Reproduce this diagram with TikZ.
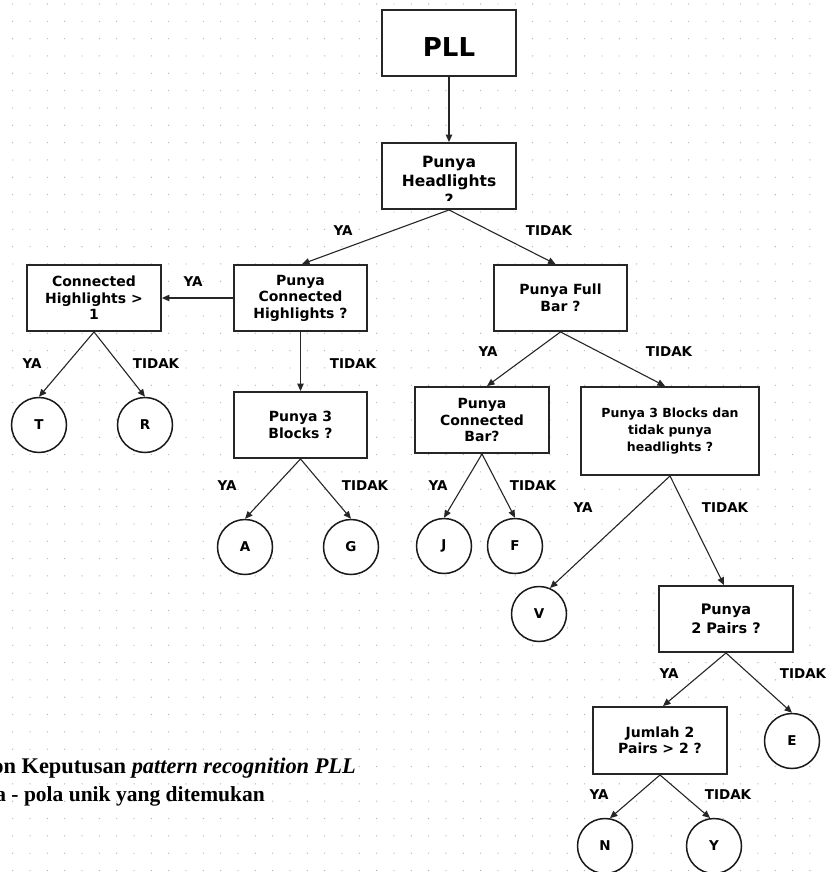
\documentclass[tikz,border=0pt]{standalone}
\usepackage{fontspec}
\setmainfont{DejaVu Sans}
\newfontfamily\capfont{Liberation Serif}
\usetikzlibrary{arrows.meta}
\begin{document}
\begin{tikzpicture}[x=1pt,y=-1pt,
  box/.style={draw=black!85,line width=1.9pt,fill=white,inner sep=0pt,align=center,
    minimum width=134pt,minimum height=66pt,font=\fontsize{14}{16.5}\selectfont\bfseries},
  leaf/.style={circle,draw=black!90,line width=1.5pt,fill=white,inner sep=0pt,
    minimum size=55pt,font=\fontsize{13.5}{16}\selectfont\bfseries},
  lab/.style={inner sep=0pt,font=\fontsize{13.5}{16}\selectfont\bfseries},
  arr/.style={-{Triangle[length=7.5pt,width=6.5pt]},line width=1.1pt,draw=black!85}]
\clip (0,0) rectangle (825,872);
\fill[white] (0,0) rectangle (825,872);
% dot grid
\foreach \i in {0,...,47}{\foreach \j in {0,...,50}{
  \fill[black!30] ({12.7+17.33*\i},{4+17.33*\j}) circle (0.65pt);}}
% boxes
\node[box] (pll) at (449,43) {};
\node[inner sep=0pt,font=\fontsize{26}{30}\selectfont\bfseries] (pllt) at (449,47) {PLL};
\node[box] (hl) at (449,176) {};
\begin{scope}
  \clip (384,145) rectangle (514,200);
  \node[inner sep=0pt,align=center,font=\fontsize{15.5}{19}\selectfont\bfseries] (hlt) at (449,181) {Punya\\Headlights\\?};
\end{scope}
\node[box] (ch1) at (94,298) {Connected\\Highlights >\\1};
\node[box,minimum width=133pt] (pch) at (300.5,298) {Punya\\Connected\\Highlights ?};
\node[box,minimum width=133pt] (fb) at (560.5,298) {Punya Full\\Bar ?};
\node[box,minimum width=133pt] (p3b) at (300.5,425) {Punya 3\\Blocks ?};
\node[box] (pcb) at (482,420) {Punya\\Connected\\Bar?};
\node[box,minimum width=178pt,minimum height=88pt,font=\fontsize{12.5}{17}\selectfont\bfseries] (p3bd) at (670,431) {Punya 3 Blocks dan\\tidak punya\\headlights ?};
\node[box,font=\fontsize{14.5}{19}\selectfont\bfseries] (p2p) at (726,619) {Punya\\2 Pairs ?};
\node[box,minimum height=67pt,font=\fontsize{14}{16}\selectfont\bfseries] (jml) at (660,740.5) {Jumlah 2\\Pairs > 2 ?};
% leaves
\node[leaf] (T) at (39,425) {T};
\node[leaf] (R) at (145,425) {R};
\node[leaf] (A) at (245,547) {A};
\node[leaf] (G) at (351,547) {G};
\node[leaf] (J) at (444,546) {J};
\node[leaf] (F) at (515,546) {F};
\node[leaf] (V) at (539,614) {V};
\node[leaf] (E) at (792,741) {E};
\node[leaf] (N) at (605,846) {N};
\node[leaf] (Y) at (714,846) {Y};
% connectors
\draw[arr] (pll.south) -- (hl.north);
\draw[arr] (hl.south) -- ([xshift=1.5pt]pch.north);
\draw[arr] (hl.south) -- ([xshift=-5pt]fb.north);
\draw[arr] (pch.west) -- (ch1.east);
\draw[arr] (ch1.south) -- (T.north);
\draw[arr] (ch1.south) -- (R.north);
\draw[arr] (pch.south) -- (p3b.north);
\draw[arr] (p3b.south) -- (A.north);
\draw[arr] (p3b.south) -- (G.north);
\draw[arr] (fb.south) -- ([xshift=5pt]pcb.north);
\draw[arr] (fb.south) -- ([xshift=-5pt]p3bd.north);
\draw[arr] (pcb.south) -- (J.north);
\draw[arr] (pcb.south) -- (F.north);
\draw[arr] (p3bd.south) -- (V.67);
\draw[arr] (p3bd.south) -- ([xshift=-2pt]p2p.north);
\draw[arr] (p2p.south) -- ([xshift=3pt]jml.north);
\draw[arr] (p2p.south) -- (E.north);
\draw[arr] (jml.south) -- (N.80);
\draw[arr] (jml.south) -- (Y.98);
% labels
\node[lab] (l1) at (343,231) {YA};
\node[lab] (l2) at (549,231) {TIDAK};
\node[lab] (l3) at (193,282) {YA};
\node[lab] (l4) at (32,364) {YA};
\node[lab] (l5) at (156,364) {TIDAK};
\node[lab] (l6) at (353,364) {TIDAK};
\node[lab] (l7) at (488,352) {YA};
\node[lab] (l8) at (669,352) {TIDAK};
\node[lab] (l9) at (227,486) {YA};
\node[lab] (l10) at (365,486) {TIDAK};
\node[lab] (l11) at (438,486) {YA};
\node[lab] (l12) at (533,486) {TIDAK};
\node[lab] (l13) at (583,508) {YA};
\node[lab] (l14) at (725,508) {TIDAK};
\node[lab] (l15) at (669,674) {YA};
\node[lab] (l16) at (803,674) {TIDAK};
\node[lab] (l17) at (599,795) {YA};
\node[lab] (l18) at (728,795) {TIDAK};
% caption (cut off at the left edge, as in the reference)
\node[anchor=base east,inner sep=0pt,font=\capfont\fontsize{22.4}{26}\selectfont\bfseries] (cap1) at (356,773) {on Keputusan \textit{pattern recognition PLL}};
\node[anchor=base east,inner sep=0pt,font=\capfont\fontsize{21.5}{26}\selectfont\bfseries] (cap2) at (265,801) {a - pola unik yang ditemukan};
\end{tikzpicture}
\end{document}
